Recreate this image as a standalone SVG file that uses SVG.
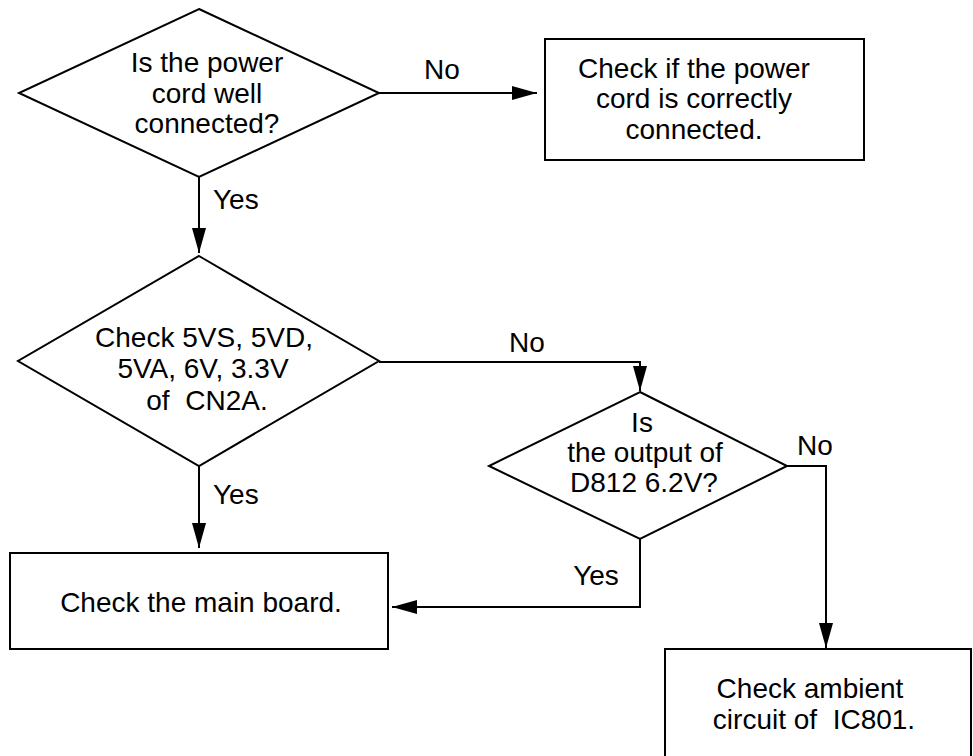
<svg xmlns="http://www.w3.org/2000/svg" width="973" height="756" viewBox="0 0 973 756">
<style>
.s{fill:#fff;stroke:#000;stroke-width:2}
.c{fill:none;stroke:#000;stroke-width:2}
text{font-family:"Liberation Sans",Arial,sans-serif;font-size:28px;fill:#000}
.m{text-anchor:middle}
</style>
<defs>
<marker id="ah" markerUnits="userSpaceOnUse" markerWidth="26" markerHeight="14" refX="25" refY="7" orient="auto">
<path d="M0,0 L25,7 L0,14 Z" fill="#000"/>
</marker>
</defs>
<g id="connectors">
<line class="c" x1="379" y1="93" x2="537" y2="93" marker-end="url(#ah)"/>
<line class="c" x1="199" y1="177" x2="199" y2="253" marker-end="url(#ah)"/>
<polyline class="c" points="379,362 640,362 640,391" marker-end="url(#ah)"/>
<line class="c" x1="199" y1="466" x2="199" y2="548" marker-end="url(#ah)"/>
<polyline class="c" points="640,539 640,607 392,607" marker-end="url(#ah)"/>
<polyline class="c" points="787,466 826,466 826,648" marker-end="url(#ah)"/>
<text x="442" y="79" class="m">No</text>
<text x="213" y="209">Yes</text>
<text x="527" y="352" class="m">No</text>
<text x="213" y="504">Yes</text>
<text x="596" y="585" class="m">Yes</text>
<text x="815" y="455" class="m">No</text>
</g>
<g id="d1">
<polygon class="s" points="199,9 379,93 199,177 19,93"/>
<text class="m" x="207" y="72">Is the power</text>
<text class="m" x="207" y="103">cord well</text>
<text class="m" x="207" y="133">connected?</text>
</g>
<g id="b1">
<rect class="s" x="545" y="39" width="319" height="121"/>
<text class="m" x="694" y="78">Check if the power</text>
<text class="m" x="694" y="108">cord is correctly</text>
<text class="m" x="694" y="139">connected.</text>
</g>
<g id="d2">
<polygon class="s" points="199,256 379,361 199,466 18,361"/>
<text class="m" x="204" y="347">Check 5VS, 5VD,</text>
<text class="m" x="203" y="378">5VA, 6V, 3.3V</text>
<text class="m" x="207" y="410" xml:space="preserve">of  CN2A.</text>
</g>
<g id="d3">
<polygon class="s" points="640,392 787,466 640,539 489,466"/>
<text class="m" x="642" y="432">Is</text>
<text class="m" x="645" y="462">the output of</text>
<text class="m" x="644" y="492">D812 6.2V?</text>
</g>
<g id="b2">
<rect class="s" x="10" y="553" width="378" height="96"/>
<text class="m" x="201" y="612">Check the main board.</text>
</g>
<g id="b3">
<rect class="s" x="665" y="649" width="306" height="120"/>
<text class="m" x="810" y="698">Check ambient</text>
<text class="m" x="814" y="729" xml:space="preserve">circuit of  IC801.</text>
</g>
</svg>
